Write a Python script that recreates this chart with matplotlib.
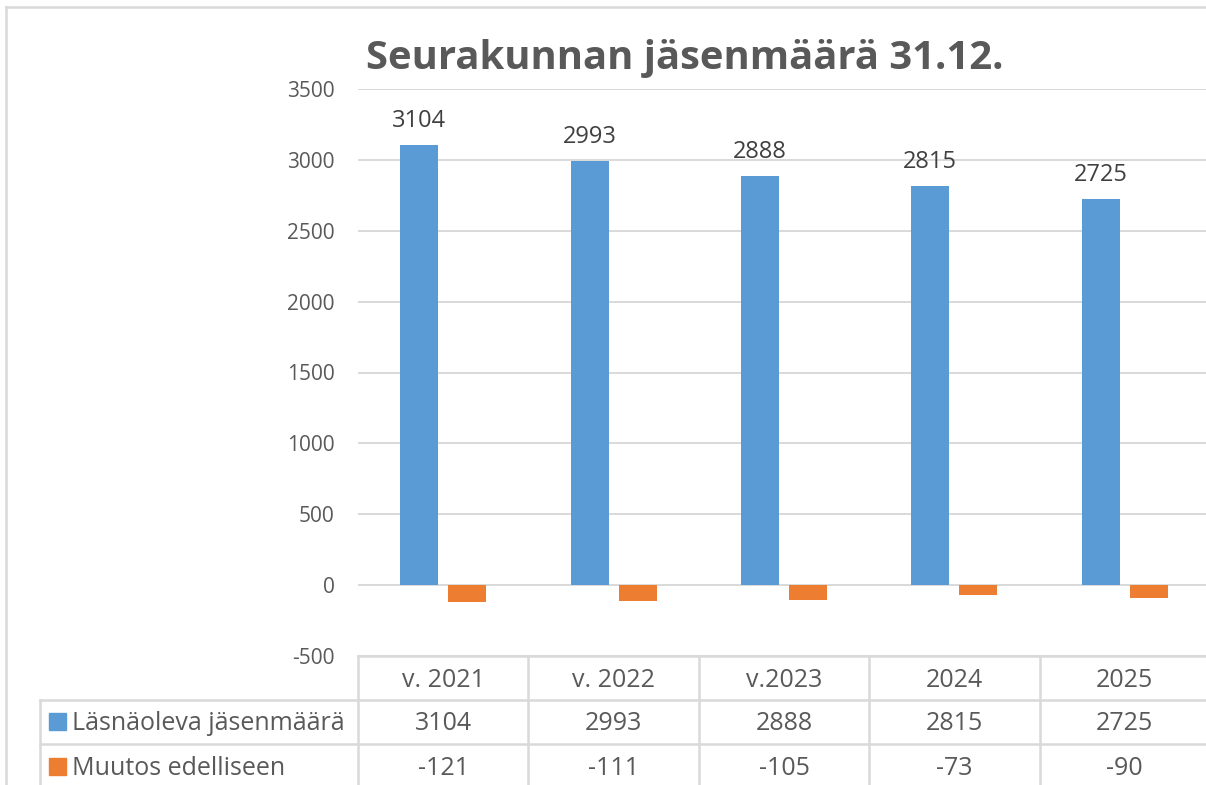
import numpy as np
import matplotlib.pyplot as plt
from matplotlib.lines import Line2D
from matplotlib.patches import Rectangle
from matplotlib.transforms import blended_transform_factory

# data
years = ['v. 2021', 'v. 2022', 'v.2023', '2024', '2025']
members = [3104, 2993, 2888, 2815, 2725]
change = [-121, -111, -105, -73, -90]
series_names = ['Läsnäoleva jäsenmäärä', 'Muutos edelliseen']
title = 'Seurakunnan jäsenmäärä 31.12.'

BLUE = '#5b9bd5'
ORANGE = '#ed7d31'
GRID = '#d9d9d9'
TXT = '#595959'

W, H = 1206, 785
plt.rcParams['font.family'] = ['Open Sans', 'DejaVu Sans']
plt.rcParams['axes.unicode_minus'] = False

fig = plt.figure(figsize=(W / 100, H / 100), dpi=100)


def fx(px):
    return px / W


def fy(py):  # pixel row from top -> figure fraction
    return 1 - py / H


ax = fig.add_axes([fx(358), fy(656), fx(1210) - fx(358), fy(89) - fy(656)])
x = np.arange(len(years))
bw = 0.223
off = 0.141
ax.bar(x - off, members, bw, color=BLUE)
ax.bar(x + off, change, bw, color=ORANGE)
ax.set_xlim(-0.5, len(years) - 0.5)
ax.set_ylim(-500, 3500)
ax.set_yticks(np.arange(-500, 3501, 500))
ax.set_xticks([])
ax.grid(axis='y', color=GRID, lw=1.4)
ax.set_axisbelow(True)
for s in ax.spines.values():
    s.set_visible(False)
ax.tick_params(axis='y', length=0, pad=17, labelsize=15, labelcolor=TXT)

for xi, v in zip(x, members):
    ax.annotate(str(v), (xi - off, v), xytext=(0, 13), textcoords='offset points',
                ha='center', va='baseline', fontsize=17, color='#404040')

fig.text(fx(685), fy(69), title, ha='center', va='baseline',
         fontsize=28.8, fontweight='bold', color=TXT)

# data table under the chart
tr = blended_transform_factory(ax.transData, fig.transFigure)
lk = dict(color=GRID, lw=1.8)
for b in np.arange(len(years) + 1) - 0.5:
    fig.add_artist(Line2D([b, b], [fy(656), 0], transform=tr, **lk))
fig.add_artist(Line2D([fx(40), fx(40)], [fy(700), 0], **lk))
fig.add_artist(Line2D([fx(358), 1], [fy(656), fy(656)], **lk))
for yy in (700, 744):
    fig.add_artist(Line2D([fx(40), 1], [fy(yy), fy(yy)], **lk))

for xi, lab in zip(x, years):
    fig.text(xi, fy(687), lab, transform=tr, ha='center', va='baseline', fontsize=18, color=TXT)
rows = [members, change]
colors = [BLUE, ORANGE]
for r, (name, vals, c) in enumerate(zip(series_names, rows, colors)):
    base = 730 + r * 45
    fig.add_artist(Rectangle((fx(49), fy(base)), fx(17), 17 / H, color=c))
    fig.text(fx(72), fy(base), name, ha='left', va='baseline', fontsize=18, color=TXT)
    for xi, v in zip(x, vals):
        fig.text(xi, fy(base), str(v), transform=tr, ha='center', va='baseline',
                 fontsize=18, color=TXT)

# chart border (cropped at right and bottom)
fig.add_artist(Line2D([fx(6), fx(6)], [0, fy(7)], **lk))
fig.add_artist(Line2D([fx(6), 1], [fy(7), fy(7)], **lk))

fig.savefig('out.png', dpi=100)
